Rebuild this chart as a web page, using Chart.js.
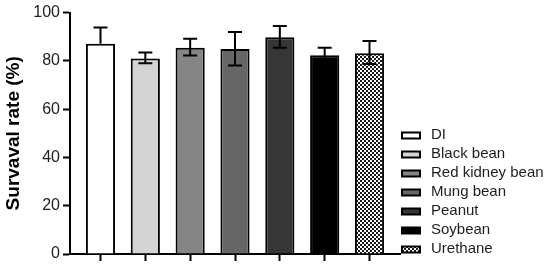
<!DOCTYPE html>
<html>
<head>
<meta charset="utf-8">
<style>html,body{margin:0;padding:0;background:#fff;}canvas{display:block;}</style>
<script src="https://cdn.jsdelivr.net/npm/chart.js@4/dist/chart.umd.min.js"></script>
</head>
<body>
<canvas id="c" width="550" height="270"></canvas>
<script>
const categories = ['DI', 'Black bean', 'Red kidney bean', 'Mung bean', 'Peanut', 'Soybean', 'Urethane'];
const survival = [87.1, 81.0, 85.4, 84.9, 89.8, 82.3, 83.2];
const errUp = [6.7, 2.5, 3.8, 7.1, 4.7, 3.1, 5.0];
const errDown = [0, 2.0, 3.2, 6.8, 4.4, 3.1, 4.5];
const yTicks = [0, 20, 40, 60, 80, 100];

function checker() {
  const c = document.createElement('canvas');
  c.width = 4; c.height = 4;
  const g = c.getContext('2d');
  g.fillStyle = '#ffffff'; g.fillRect(0, 0, 4, 4);
  g.fillStyle = '#1a1a1a'; g.fillRect(0, 0, 2, 2); g.fillRect(2, 2, 2, 2);
  return g.createPattern(c, 'repeat');
}
const barColors = ['#ffffff', '#d4d4d4', '#858585', '#666666', '#363636', '#000000', checker()];

const FONT = '"Liberation Sans", Arial, sans-serif';
Chart.defaults.font.family = FONT;
Chart.defaults.color = '#222';

const errorBars = {
  id: 'errorBars',
  afterDatasetsDraw(chart) {
    const ctx = chart.ctx, y = chart.scales.y;
    const meta = chart.getDatasetMeta(0);
    ctx.save();
    ctx.strokeStyle = '#000';
    ctx.lineWidth = 2;
    meta.data.forEach((bar, i) => {
      const x = bar.x;
      const yt = y.getPixelForValue(survival[i] + errUp[i]);
      const yb = y.getPixelForValue(survival[i] - errDown[i]);
      const cap = 7;
      ctx.beginPath();
      ctx.moveTo(x, yt); ctx.lineTo(x, yb);
      ctx.moveTo(x - cap, yt); ctx.lineTo(x + cap, yt);
      if (errDown[i] > 0) { ctx.moveTo(x - cap, yb); ctx.lineTo(x + cap, yb); }
      ctx.stroke();
    });
    ctx.restore();
  }
};

const sideLegend = {
  id: 'sideLegend',
  afterDraw(chart) {
    const ctx = chart.ctx, a = chart.chartArea;
    const n = categories.length, rowH = 19;
    const x0 = a.right + 2;
    ctx.save();
    ctx.font = '15px ' + FONT;
    ctx.textBaseline = 'middle';
    categories.forEach((label, i) => {
      const yc = a.bottom - 5 - (n - 1 - i) * rowH;
      ctx.fillStyle = barColors[i];
      ctx.fillRect(x0, yc - 2.5, 18, 6);
      ctx.strokeStyle = '#000';
      ctx.lineWidth = 2;
      ctx.strokeRect(x0, yc - 2.5, 18, 6);
      ctx.fillStyle = '#1e1e1e';
      ctx.fillText(label, x0 + 29, yc);
    });
    ctx.restore();
  }
};

new Chart(document.getElementById('c'), {
  type: 'bar',
  data: {
    labels: categories,
    datasets: [{
      data: survival.map((v, i) => ({x: i, y: v})),
      backgroundColor: barColors,
      borderColor: '#000',
      borderWidth: 2,
      borderSkipped: 'start',
      barPercentage: 0.65,
      categoryPercentage: 1
    }]
  },
  options: {
    responsive: false,
    animation: false,
    devicePixelRatio: 1,
    layout: {padding: {top: 12, bottom: 9, right: 150, left: 0}},
    plugins: {
      tooltip: {enabled: false},
      legend: {display: false}
    },
    scales: {
      x: {
        type: 'linear',
        offset: false,
        min: -0.68,
        max: 6.68,
        afterBuildTicks(s) { s.ticks = categories.map((_, i) => ({value: i})); },
        ticks: {display: false, stepSize: 1},
        grid: {offset: false, drawOnChartArea: false, tickLength: 7, tickColor: '#000', tickWidth: 2},
        border: {color: '#000', width: 2}
      },
      y: {
        min: 0,
        max: 100,
        afterBuildTicks(s) { s.ticks = yTicks.map(v => ({value: v})); },
        afterFit(s) { s.width = 70; },
        ticks: {font: {size: 16}, color: '#222', padding: 3},
        grid: {drawOnChartArea: false, tickLength: 7, tickColor: '#000', tickWidth: 2},
        border: {color: '#000', width: 2},
        title: {display: true, text: 'Survaval rate (%)', color: '#000', font: {size: 19, weight: 'bold'}, padding: {top: 2, bottom: 0}}
      }
    }
  },
  plugins: [errorBars, sideLegend]
});
</script>
</body>
</html>
